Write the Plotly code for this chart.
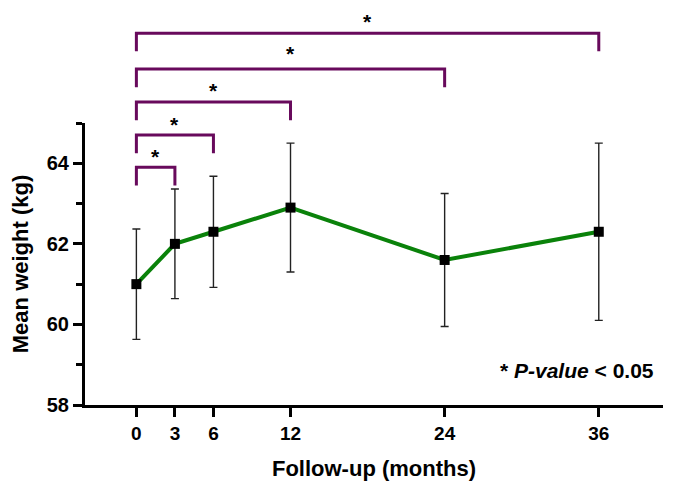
import plotly.graph_objects as go

months = [0, 3, 6, 12, 24, 36]
mean_weight = [61.0, 62.0, 62.3, 62.9, 61.6, 62.3]
sd_weight = [1.37, 1.36, 1.38, 1.6, 1.65, 2.2]

y_ticks = [58, 60, 62, 64]
y_minor = [59, 61, 63, 65]
x_ticks = [0, 3, 6, 12, 24, 36]

# significance brackets: comparison end month and bracket level (in kg-axis units)
bracket_end = [3, 6, 12, 24, 36]
bracket_level = [63.9, 64.7, 65.52, 66.34, 67.23]
star_level = [64.3, 65.1, 65.95, 66.85, 67.65]

Y0, Y1 = 58, 65
X0, X1 = -4, 41

def to_paper(v):
    return (v - Y0) / (Y1 - Y0)

fig = go.Figure()
fig.add_trace(go.Scatter(
    x=months, y=mean_weight, mode="lines+markers",
    line=dict(color="#0a820a", width=4),
    marker=dict(symbol="square", size=10, color="black"),
    error_y=dict(type="data", array=sd_weight, visible=True,
                 color="#222222", thickness=1.4, width=4),
    showlegend=False,
))

purple = "#680a5c"
leg = 0.45
star_offset = 0.2
for e, lv, sl in zip(bracket_end, bracket_level, star_level):
    fig.add_shape(type="path", xref="x", yref="paper",
                  path=f"M 0,{to_paper(lv - leg)} L 0,{to_paper(lv)} L {e},{to_paper(lv)} L {e},{to_paper(lv - leg)}",
                  line=dict(color=purple, width=3))
    fig.add_annotation(x=e / 2, y=to_paper(sl + star_offset), xref="x", yref="paper",
                       text="<b>*</b>", showarrow=False,
                       font=dict(size=21, color="black", family="Liberation Sans"),
                       xanchor="center", yanchor="top")

fig.add_annotation(x=0.988, y=0.124, xref="paper", yref="paper",
                   text="<b>* <i>P-value</i> &lt; 0.05</b>", showarrow=False,
                   font=dict(size=21, color="black", family="Liberation Sans"),
                   xanchor="right", yanchor="middle")

fig.update_layout(
    width=673, height=483,
    margin=dict(l=77, r=18, t=115, b=86),
    plot_bgcolor="white", paper_bgcolor="white",
    font=dict(family="Liberation Sans", color="black"),
    xaxis=dict(range=[X0, X1], tickmode="array", tickvals=x_ticks,
               ticktext=[f"<b>{v}</b>" for v in x_ticks],
               showline=True, linecolor="black", linewidth=3,
               ticks="outside", ticklen=9, tickwidth=3, tickcolor="black",
               showgrid=False, zeroline=False, automargin=False,
               tickfont=dict(size=19, family="Liberation Sans Narrow, Liberation Sans"),
               title=dict(text="<b>Follow-up (months)</b>", font=dict(size=22), standoff=18)),
    yaxis=dict(range=[Y0, Y1], tickmode="array", tickvals=y_ticks,
               ticktext=[f"<b>{v}</b>" for v in y_ticks],
               showline=True, linecolor="black", linewidth=3,
               ticks="outside", ticklen=9, tickwidth=3, tickcolor="black",
               minor=dict(tickmode="array", tickvals=y_minor, ticks="outside",
                          ticklen=6, tickwidth=3, tickcolor="black", showgrid=False),
               showgrid=False, zeroline=False, automargin=False,
               tickfont=dict(size=20, family="Liberation Sans"),
               title=dict(text="<b>Mean weight (kg)</b>", font=dict(size=22), standoff=13)),
)

fig.write_html("out.html")
